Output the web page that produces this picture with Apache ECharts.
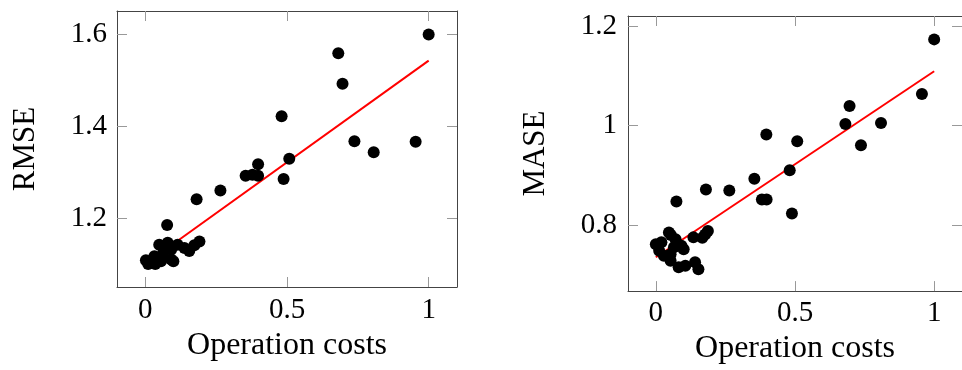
<!DOCTYPE html>
<html>
<head>
<meta charset="utf-8">
<script src="https://cdn.jsdelivr.net/npm/echarts@6/dist/echarts.min.js"></script>
<style>
  html, body { margin: 0; padding: 0; background: #fff; }
  #chart { width: 962px; height: 370px; }
</style>
</head>
<body>
<div id="chart"></div>
<script>
// operation costs (x) vs RMSE / MASE (y)
const rmseCost = [1.0, 0.681, 0.696, 0.481, 0.738, 0.954, 0.806, 0.508, 0.398, 0.354, 0.398, 0.378, 0.488, 0.265, 0.181, 0.077,
  0.191, 0.173, 0.155, 0.138, 0.114, 0.091, 0.079, 0.049, 0.032, 0.002, 0.02, 0.01, 0.035, 0.055, 0.091, 0.099, 0.06, 0.066]
const rmseValue = [1.599, 1.558, 1.492, 1.421, 1.367, 1.366, 1.343, 1.329, 1.317, 1.292, 1.292, 1.294, 1.285, 1.26, 1.241, 1.185,
  1.149, 1.141, 1.128, 1.135, 1.142, 1.131, 1.146, 1.142, 1.117, 1.108, 1.106, 1.1, 1.1, 1.106, 1.11, 1.106, 1.12, 1.13]

const maseCost = [1.0, 0.956, 0.696, 0.681, 0.809, 0.737, 0.397, 0.508, 0.481, 0.354, 0.381, 0.398, 0.489, 0.18, 0.264, 0.074,
  0.187, 0.177, 0.167, 0.135, 0.1, 0.092, 0.071, 0.047, 0.054, 0.065, 0, 0.012, 0.02, 0.029, 0.053, 0.053, 0.082, 0.106, 0.141, 0.153]
const maseValue = [1.173, 1.063, 1.039, 1.003, 1.005, 0.96, 0.982, 0.968, 0.91, 0.893, 0.851, 0.851, 0.823, 0.871, 0.869, 0.847,
  0.788, 0.781, 0.774, 0.775, 0.751, 0.758, 0.771, 0.785, 0.78, 0.755, 0.761, 0.748, 0.765, 0.738, 0.741, 0.728, 0.715, 0.718, 0.725, 0.711]

// linear fits, at x = 0 and x = 1
const fitCost = [0, 1]
const rmseFit = [1.1, 1.542]
const maseFit = [0.735, 1.109]

const xTicks = [0, 0.5, 1]
const rmseTicks = [1.2, 1.4, 1.6]
const maseTicks = [0.8, 1, 1.2]

const font = 'Liberation Serif'
const boxColor = '#444'
const tickColor = '#999'

function pairs(xs, ys) {
  return xs.map(function(x, i) { return [x, ys[i]] })
}

function xAxes(gridIndex, nameGap, labelMargin) {
  return [
    {
      gridIndex: gridIndex,
      type: 'value',
      min: -0.1,
      max: 1.1,
      position: 'bottom',
      name: 'Operation costs',
      nameLocation: 'middle',
      nameGap: nameGap,
      nameTextStyle: { fontFamily: font, fontSize: 32, color: '#000' },
      axisLine: { show: true, onZero: false, lineStyle: { color: boxColor, width: 1 } },
      axisTick: { show: true, inside: true, length: 10, customValues: xTicks, lineStyle: { color: tickColor } },
      axisLabel: { customValues: xTicks, margin: labelMargin, fontFamily: font, fontSize: 29, color: '#000' },
      splitLine: { show: false }
    },
    {
      gridIndex: gridIndex,
      type: 'value',
      min: -0.1,
      max: 1.1,
      position: 'top',
      axisLine: { show: true, onZero: false, lineStyle: { color: boxColor, width: 1 } },
      axisTick: { show: true, inside: true, length: 10, customValues: xTicks, lineStyle: { color: tickColor } },
      axisLabel: { show: false },
      splitLine: { show: false }
    }
  ]
}

function yAxes(gridIndex, name, min, max, ticks, nameGap, labelMargin) {
  return [
    {
      gridIndex: gridIndex,
      type: 'value',
      min: min,
      max: max,
      position: 'left',
      name: name,
      nameLocation: 'middle',
      nameRotate: 90,
      nameGap: nameGap,
      nameTextStyle: { fontFamily: font, fontSize: 31, color: '#000' },
      axisLine: { show: true, onZero: false, lineStyle: { color: boxColor, width: 1 } },
      axisTick: { show: true, inside: true, length: 10, customValues: ticks, lineStyle: { color: tickColor } },
      axisLabel: { customValues: ticks, margin: labelMargin, fontFamily: font, fontSize: 29, color: '#000' },
      splitLine: { show: false }
    },
    {
      gridIndex: gridIndex,
      type: 'value',
      min: min,
      max: max,
      position: 'right',
      axisLine: { show: true, onZero: false, lineStyle: { color: boxColor, width: 1 } },
      axisTick: { show: true, inside: true, length: 10, customValues: ticks, lineStyle: { color: tickColor } },
      axisLabel: { show: false },
      splitLine: { show: false }
    }
  ]
}

function fitSeries(axisOffset, ys) {
  return {
    type: 'line',
    xAxisIndex: axisOffset,
    yAxisIndex: axisOffset,
    data: pairs(fitCost, ys),
    symbol: 'none',
    lineStyle: { color: '#ff0000', width: 2 },
    z: 2
  }
}

function dotSeries(axisOffset, xs, ys) {
  return {
    type: 'scatter',
    xAxisIndex: axisOffset,
    yAxisIndex: axisOffset,
    data: pairs(xs, ys),
    symbol: 'circle',
    symbolSize: 12,
    itemStyle: { color: '#000', opacity: 1 },
    z: 3
  }
}

const chart = echarts.init(document.getElementById('chart'), null, { renderer: 'canvas' })

const option = {
  animation: false,
  backgroundColor: '#fff',
  grid: [
    { left: 117, top: 11, width: 340, height: 276 },
    { left: 628, top: 16, width: 339, height: 276 }
  ],
  xAxis: xAxes(0, 29, 9).concat(xAxes(1, 25, 8)),
  yAxis: yAxes(0, 'RMSE', 1.05, 1.65, rmseTicks, 76, 10)
    .concat(yAxes(1, 'MASE', 0.667, 1.22, maseTicks, 77, 11)),
  series: [
    fitSeries(0, rmseFit),
    dotSeries(0, rmseCost, rmseValue),
    fitSeries(2, maseFit),
    dotSeries(2, maseCost, maseValue)
  ]
}

// the second grid uses axes 2 and 3 for bottom/top and left/right
option.xAxis[2].gridIndex = 1
option.xAxis[3].gridIndex = 1
option.yAxis[2].gridIndex = 1
option.yAxis[3].gridIndex = 1

chart.setOption(option)
</script>
</body>
</html>
